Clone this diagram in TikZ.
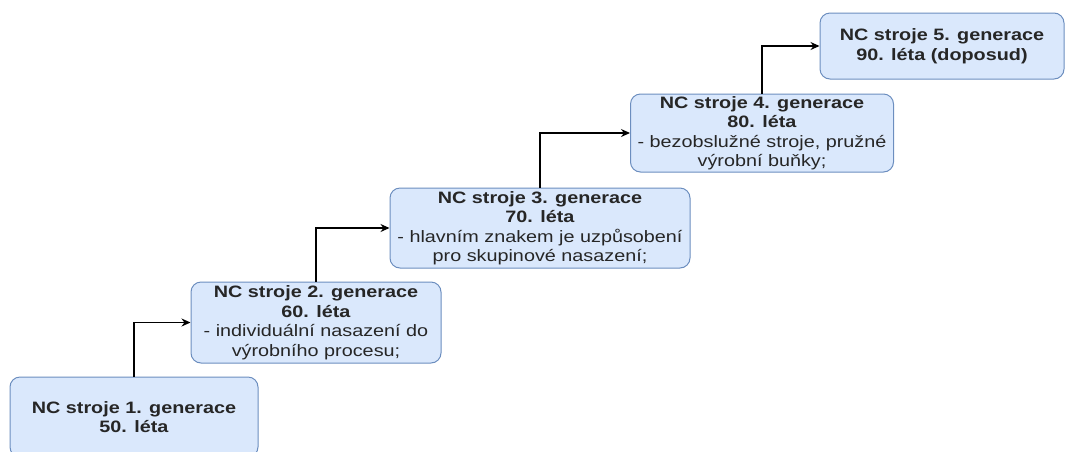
\documentclass[tikz,border=0pt]{standalone}
\usepackage{fontspec}
\setmainfont{Liberation Sans}[FakeStretch=1.2]
\usetikzlibrary{arrows.meta}
\definecolor{boxfill}{HTML}{DAE8FC}
\definecolor{boxline}{HTML}{6C8EBF}
\tikzset{
  genbox/.style={draw=boxline, fill=boxfill, line width=1pt, rounded corners=10pt,
    align=center, inner sep=1pt, font=\fontsize{16.5}{19.5}\selectfont, text=black!85},
  link/.style={draw=black, line width=1.3pt, -{Stealth[length=9pt,width=8pt]}}
}
\begin{document}
\begin{tikzpicture}[x=1pt,y=-1pt]
\useasboundingbox (0,0) rectangle (1074,451);
\node[genbox, minimum width=248pt, minimum height=80pt] (b1) at (134,417)
  {\textbf{NC stroje 1. generace}\\\textbf{50. léta}};
\node[genbox, minimum width=250pt, minimum height=81pt] (b2) at (316,322.5)
  {\textbf{NC stroje 2. generace}\\\textbf{60. léta}\\- individuální nasazení do\\výrobního procesu;};
\node[genbox, minimum width=300pt, minimum height=80pt] (b3) at (540,228)
  {\textbf{NC stroje 3. generace}\\\textbf{70. léta}\\- hlavním znakem je uzpůsobení\\pro skupinové nasazení;};
\node[genbox, minimum width=263pt, minimum height=78pt] (b4) at (762,133)
  {\textbf{NC stroje 4. generace}\\\textbf{80. léta}\\- bezobslužné stroje, pružné\\výrobní buňky;};
\node[genbox, minimum width=244pt, minimum height=66pt] (b5) at (942,46)
  {\textbf{NC stroje 5. generace}\\\textbf{90. léta (doposud)}};
\draw[link] (b1.north) |- (b2.west);
\draw[link] (b2.north) |- (b3.west);
\draw[link] (b3.north) |- (b4.west);
\draw[link] (b4.north) |- (b5.west);
\end{tikzpicture}
\end{document}
